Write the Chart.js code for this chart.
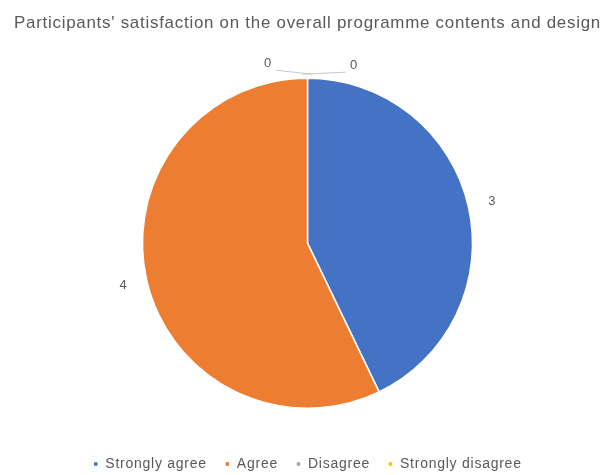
<!DOCTYPE html>
<html>
<head>
<meta charset="utf-8">
<script src="https://cdn.jsdelivr.net/npm/chart.js@4/dist/chart.umd.min.js"></script>
<style>
  html, body { margin: 0; padding: 0; background: #ffffff; }
  #wrap { width: 601px; height: 475px; position: relative; }
</style>
</head>
<body>
<div id="wrap"><canvas id="chart" width="601" height="475"></canvas></div>
<script>
// Survey responses
const chartTitle = "Participants' satisfaction on the overall programme contents and design";
const categories = ['Strongly agree', 'Agree', 'Disagree', 'Strongly disagree'];
const responses = [3, 4, 0, 0];
const sliceColors = ['#4472C4', '#ED7D31', '#A5A5A5', '#FFC000'];

const textColor = '#595959';
const fontFamily = '"Liberation Sans", Arial, sans-serif';
const textSpacing = '0.75px';

// Slightly widened lettering for the title and legend
const wideText = {
  id: 'wideText',
  beforeUpdate(chart) { chart.ctx.letterSpacing = textSpacing; },
  beforeLayout(chart) { chart.ctx.letterSpacing = textSpacing; },
  beforeDraw(chart) { chart.ctx.letterSpacing = textSpacing; }
};

// Value labels outside each slice, with leader lines for empty slices
const valueLabels = {
  id: 'valueLabels',
  afterDatasetsDraw(chart) {
    const ctx = chart.ctx;
    const meta = chart.getDatasetMeta(0);
    const values = chart.data.datasets[0].data;
    ctx.save();
    ctx.letterSpacing = '0px';
    ctx.font = '13px ' + fontFamily;
    ctx.fillStyle = textColor;
    ctx.textAlign = 'center';
    ctx.textBaseline = 'middle';
    let zeroIndex = 0;
    meta.data.forEach((arc, i) => {
      const p = arc.getProps(['x', 'y', 'startAngle', 'endAngle', 'outerRadius'], true);
      const mid = (p.startAngle + p.endAngle) / 2;
      const ex = p.x + Math.cos(mid) * p.outerRadius;
      const ey = p.y + Math.sin(mid) * p.outerRadius;
      if (values[i] === 0) {
        const side = zeroIndex === 0 ? -1 : 1;
        const lx = ex + (zeroIndex === 0 ? -40 : 46);
        const ly = ey - (zeroIndex === 0 ? 15 : 13);
        ctx.strokeStyle = '#C8C8C8';
        ctx.lineWidth = 1;
        ctx.beginPath();
        ctx.moveTo(lx - side * 8, ly + 7);
        ctx.lineTo(ex - side * 5, ey - 4);
        ctx.stroke();
        ctx.fillText(String(values[i]), lx, ly);
        zeroIndex++;
      } else {
        const r = p.outerRadius + 24;
        ctx.fillText(String(values[i]), p.x + Math.cos(mid) * r, p.y + Math.sin(mid) * r);
      }
    });
    ctx.restore();
  }
};

new Chart(document.getElementById('chart'), {
  type: 'pie',
  data: {
    labels: categories,
    datasets: [{
      data: responses,
      backgroundColor: sliceColors,
      borderColor: '#ffffff',
      borderWidth: 1.5
    }]
  },
  options: {
    responsive: false,
    animation: false,
    radius: 165,
    layout: { padding: { top: 0, bottom: -6, left: 14, right: 0 } },
    plugins: {
      title: {
        display: true,
        text: chartTitle,
        align: 'start',
        color: textColor,
        font: { family: fontFamily, size: 17, weight: 'normal' },
        padding: { top: 13, bottom: 14 }
      },
      legend: {
        position: 'bottom',
        labels: {
          color: textColor,
          font: { family: fontFamily, size: 14 },
          usePointStyle: true,
          pointStyle: 'rect',
          boxWidth: 5,
          boxHeight: 5,
          padding: 18
        }
      },
      tooltip: { enabled: false }
    }
  },
  plugins: [wideText, valueLabels]
});
</script>
</body>
</html>
